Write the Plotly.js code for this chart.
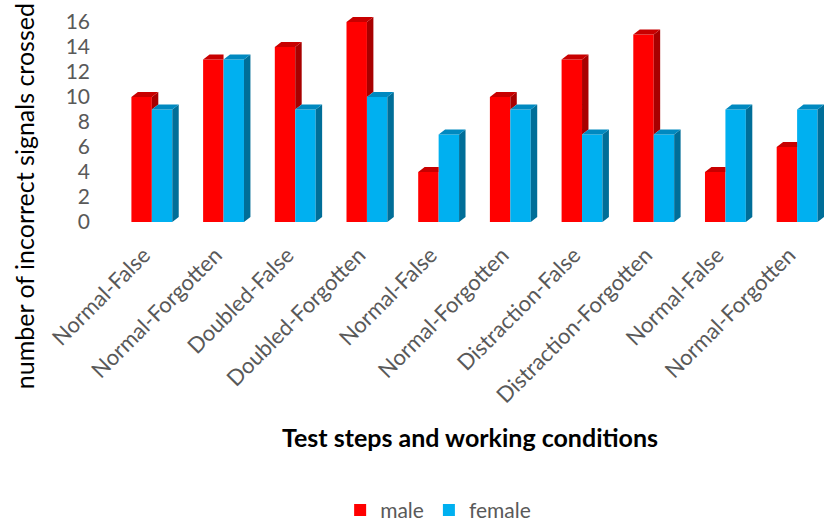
<!DOCTYPE html>
<html>
<head>
<meta charset="utf-8">
<script src="https://cdn.plot.ly/plotly-3.0.1.min.js"></script>
<style>
  html, body { margin: 0; padding: 0; background: #ffffff; }
  #chart { width: 824px; height: 524px; }
</style>
</head>
<body>
<div id="chart"></div>
<script>
// Test steps / working conditions along the x axis
const categories = [
  "Normal-False", "Normal-Forgotten", "Doubled-False", "Doubled-Forgotten",
  "Normal-False", "Normal-Forgotten", "Distraction-False", "Distraction-Forgotten",
  "Normal-False", "Normal-Forgotten"
];
// Number of incorrect signals crossed, per group
const maleValues   = [10, 13, 14, 16, 4, 10, 13, 15, 4, 6];
const femaleValues = [9, 13, 9, 10, 7, 9, 7, 7, 9, 9];
const yTicks = [0, 2, 4, 6, 8, 10, 12, 14, 16];

// Column geometry (data units) for the pseudo-3D look
const W  = 0.285;  // front face width
const DX = 0.09;   // depth offset along x
const DY = 0.4;    // depth offset along y

const MALE_FRONT = "#FF0000", MALE_TOP = "#C80000", MALE_SIDE = "#A80000";
const FEM_FRONT  = "#00B0F0", FEM_TOP  = "#0089C0", FEM_SIDE  = "#006E98";

const xs = categories.map((_, i) => i);
// category labels sit slightly left of the group centre
const labelPos = xs.map(c => c - 0.11);

// Builds one scatter trace that holds several closed polygons separated by nulls
function polyTrace(polys, color) {
  const x = [], y = [];
  polys.forEach(p => {
    p.forEach(pt => { x.push(pt[0]); y.push(pt[1]); });
    x.push(p[0][0]); y.push(p[0][1]);
    x.push(null); y.push(null);
  });
  return {
    type: "scatter", mode: "lines", x: x, y: y,
    fill: "toself", fillcolor: color,
    line: { width: 0, color: color },
    hoverinfo: "skip", showlegend: false
  };
}

// Male columns: left bar of each group
const maleTops = [], maleSides = [];
xs.forEach((c, i) => {
  const x0 = c - W, x1 = c, v = maleValues[i], f = femaleValues[i];
  if (v > f) {
    // full top face, and the part of the side face rising above the female column
    maleTops.push([[x0, v], [x0 + DX, v + DY], [x1 + DX, v + DY], [x1, v]]);
    maleSides.push([[x1, f], [x1 + DX, f + DY], [x1 + DX, v + DY], [x1, v]]);
  } else {
    // top face hidden behind the female column from x1 onwards
    maleTops.push([[x0, v], [x0 + DX, v + DY], [x1, v + DY], [x1, v]]);
  }
});

// Female columns: right bar of each group
const femTops = [], femSides = [];
xs.forEach((c, i) => {
  const x0 = c, x1 = c + W, v = femaleValues[i];
  femTops.push([[x0, v], [x0 + DX, v + DY], [x1 + DX, v + DY], [x1, v]]);
  femSides.push([[x1, 0], [x1 + DX, DY], [x1 + DX, v + DY], [x1, v]]);
});

const traces = [
  {
    type: "bar", name: "male", x: xs, y: maleValues,
    width: W, offset: -W,
    marker: { color: MALE_FRONT, line: { width: 0 } }
  },
  {
    type: "bar", name: "female", x: xs, y: femaleValues,
    width: W, offset: 0,
    marker: { color: FEM_FRONT, line: { width: 0 } }
  },
  polyTrace(maleSides, MALE_SIDE),
  polyTrace(maleTops, MALE_TOP),
  polyTrace(femSides, FEM_SIDE),
  polyTrace(femTops, FEM_TOP)
];

const FONT = "Lato, 'Open Sans', sans-serif";

const layout = {
  width: 824, height: 524,
  paper_bgcolor: "#ffffff", plot_bgcolor: "rgba(0,0,0,0)",
  margin: { l: 116, r: 0, t: 10, b: 302, autoexpand: false },
  showlegend: true,
  legend: {
    orientation: "h", x: 0.455, xanchor: "center",
    y: 0.026, yref: "container", yanchor: "middle",
    font: { family: FONT, size: 21, color: "#595959" },
    traceorder: "normal", itemclick: false
  },
  xaxis: {
    range: [-0.5, 9.375], fixedrange: true, automargin: false,
    tickmode: "array", tickvals: labelPos, ticktext: categories,
    tickangle: -45, showgrid: false, zeroline: false, showline: false,
    ticks: "", ticklabelstandoff: 15,
    tickfont: { family: FONT, size: 22, color: "#595959" }
  },
  yaxis: {
    range: [0, 16.96], fixedrange: true, automargin: false,
    tickmode: "array", tickvals: yTicks,
    showgrid: false, zeroline: false, showline: false, ticks: "",
    ticklabelstandoff: 25,
    tickfont: { family: FONT, size: 21, color: "#595959" }
  },
  annotations: [
    {
      text: "number of incorrect signals crossed", textangle: -90,
      xref: "paper", yref: "paper", x: -0.1305, y: 0.12,
      xanchor: "center", yanchor: "middle", showarrow: false,
      font: { family: FONT, size: 25, color: "#000000" }
    },
    {
      text: "<b>Test steps and working conditions</b>",
      xref: "paper", yref: "paper", x: 0.4998, y: -1.014,
      xanchor: "center", yanchor: "middle", showarrow: false,
      font: { family: FONT, size: 25, color: "#000000" }
    }
  ]
};

Plotly.newPlot("chart", traces, layout, { displayModeBar: false, staticPlot: true });
</script>
</body>
</html>
